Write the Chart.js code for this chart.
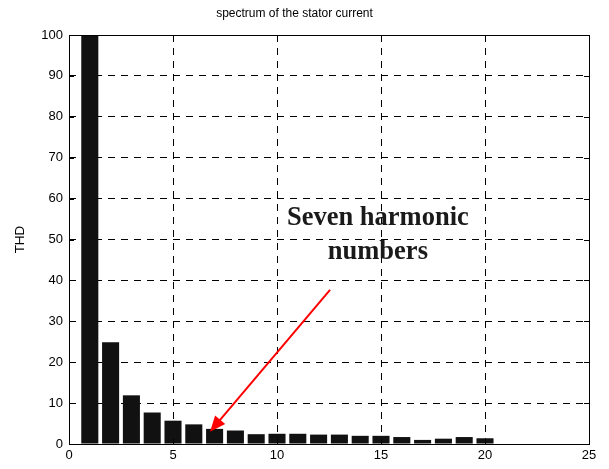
<!DOCTYPE html>
<html>
<head>
<meta charset="utf-8">
<script src="https://cdn.jsdelivr.net/npm/chart.js@4"></script>
<style>
  html, body { margin: 0; padding: 0; background: #fff; }
  #wrap { width: 609px; height: 469px; }
</style>
</head>
<body>
<div id="wrap"><canvas id="spectrum" width="609" height="469"></canvas></div>
<script>
// harmonic order and amplitude
const harmonics = [1, 2, 3, 4, 5, 6, 7, 8, 9, 10, 11, 12, 13, 14, 15, 16, 17, 18, 19, 20];
const thd = [100, 24.9, 11.9, 7.7, 5.7, 4.8, 3.7, 3.3, 2.4, 2.5, 2.5, 2.3, 2.3, 2.0, 2.0, 1.7, 1.0, 1.3, 1.7, 1.4];
const xTicks = [0, 5, 10, 15, 20, 25];
const yTicks = [0, 10, 20, 30, 40, 50, 60, 70, 80, 90, 100];

// annotation: label lines and arrow (in data units)
const noteLines = ['Seven harmonic', 'numbers'];
const notePos = { x: 14.85, y: 55.2 };
const arrowFrom = { x: 12.55, y: 37.7 };
const arrowTo = { x: 6.78, y: 3.0 };

function gridColor(c, lo, hi) {
    if (!c.tick) return '#000';
    return (c.tick.value === lo || c.tick.value === hi) ? 'rgba(0,0,0,0)' : '#000';
}

// frame + inward tick marks + annotation
const frameAndNote = {
    id: 'frameAndNote',
    afterDraw(chart) {
        const c = chart.ctx;
        const a = chart.chartArea;
        const xs = chart.scales.x, ys = chart.scales.y;
        c.save();
        c.strokeStyle = '#000';
        c.lineWidth = 1;
        c.setLineDash([]);
        c.strokeRect(Math.round(a.left) + 0.5, Math.round(a.top) + 0.5,
            Math.round(a.right - a.left), Math.round(a.bottom - a.top));
        c.beginPath();
        xTicks.forEach(function (v) {
            const px = Math.round(xs.getPixelForValue(v)) + 0.5;
            c.moveTo(px, a.bottom); c.lineTo(px, a.bottom - 5);
            c.moveTo(px, a.top); c.lineTo(px, a.top + 5);
        });
        yTicks.forEach(function (v) {
            const py = Math.round(ys.getPixelForValue(v)) + 0.5;
            c.moveTo(a.left, py); c.lineTo(a.left + 5, py);
            c.moveTo(a.right, py); c.lineTo(a.right - 5, py);
        });
        c.stroke();

        // text
        c.fillStyle = '#1a1a1a';
        c.font = 'bold 26.5px "Liberation Serif", serif';
        c.textAlign = 'center';
        c.textBaseline = 'middle';
        const tx = xs.getPixelForValue(notePos.x);
        const ty = ys.getPixelForValue(notePos.y);
        c.fillText(noteLines[0], tx, ty);
        c.fillText(noteLines[1], tx, ty + 34);

        // arrow
        const x1 = xs.getPixelForValue(arrowFrom.x), y1 = ys.getPixelForValue(arrowFrom.y);
        const x2 = xs.getPixelForValue(arrowTo.x), y2 = ys.getPixelForValue(arrowTo.y);
        const ang = Math.atan2(y2 - y1, x2 - x1);
        const head = 17, spread = 0.4;
        c.strokeStyle = '#ff0000';
        c.fillStyle = '#ff0000';
        c.lineWidth = 2;
        c.beginPath();
        c.moveTo(x1, y1);
        c.lineTo(x2 - Math.cos(ang) * head * 0.8, y2 - Math.sin(ang) * head * 0.8);
        c.stroke();
        c.beginPath();
        c.moveTo(x2, y2);
        c.lineTo(x2 - head * Math.cos(ang - spread), y2 - head * Math.sin(ang - spread));
        c.lineTo(x2 - head * Math.cos(ang + spread), y2 - head * Math.sin(ang + spread));
        c.closePath();
        c.fill();
        c.restore();
    }
};

const ctx = document.getElementById('spectrum');

new Chart(ctx, {
    type: 'bar',
    data: {
        datasets: [{
            data: harmonics.map(function (h, i) { return { x: h, y: thd[i] }; }),
            backgroundColor: '#111111',
            borderWidth: 0,
            barPercentage: 0.82,
            categoryPercentage: 1.0
        }]
    },
    options: {
        responsive: false,
        animation: false,
        layout: { padding: { left: 0, right: 20, top: 0, bottom: 0 } },
        plugins: {
            legend: { display: false },
            tooltip: { enabled: false },
            title: {
                display: true,
                text: 'spectrum of the stator current',
                color: '#000',
                font: { family: "'Liberation Sans', Arial, sans-serif", size: 12, weight: 'normal' },
                padding: { top: 6, bottom: 14.6 }
            }
        },
        scales: {
            x: {
                type: 'linear',
                offset: false,
                min: 0,
                max: 25,
                afterFit(scale) { scale.height = 25; },
                ticks: {
                    stepSize: 5,
                    color: '#000',
                    padding: 4,
                    maxRotation: 0,
                    font: { family: "'Liberation Sans', Arial, sans-serif", size: 13 }
                },
                grid: {
                    offset: false,
                    color: function (c) { return gridColor(c, 0, 25); },
                    drawTicks: false,
                    lineWidth: 1
                },
                border: { display: false, dash: [7, 6] }
            },
            y: {
                min: 0,
                max: 100,
                afterFit(scale) { scale.width = 69; },
                title: {
                    display: true,
                    text: 'THD',
                    color: '#000',
                    font: { family: "'Liberation Sans', Arial, sans-serif", size: 13.5 },
                    padding: { top: 12, bottom: 0 }
                },
                ticks: {
                    stepSize: 10,
                    color: '#000',
                    padding: 6,
                    font: { family: "'Liberation Sans', Arial, sans-serif", size: 13 }
                },
                grid: {
                    color: function (c) { return gridColor(c, 0, 100); },
                    drawTicks: false,
                    lineWidth: 1
                },
                border: { display: false, dash: [7, 6] }
            }
        }
    },
    plugins: [frameAndNote]
});
</script>
</body>
</html>
